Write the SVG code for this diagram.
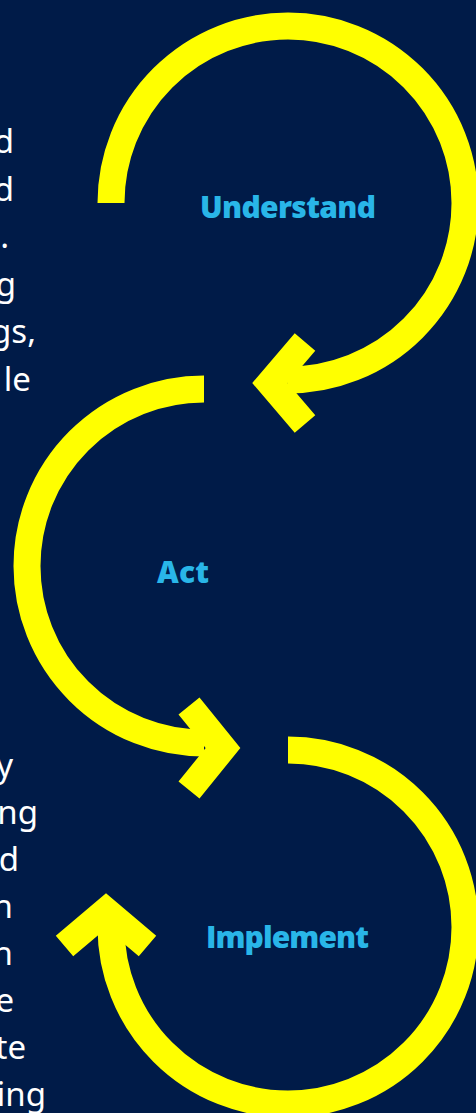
<svg xmlns="http://www.w3.org/2000/svg" width="476" height="1113" viewBox="0 0 476 1113">
  <style>
    .arc { fill: none; stroke: #FFFF00; stroke-width: 27; stroke-linecap: butt; }
    .head { fill: none; stroke: #FFFF00; stroke-width: 27; stroke-linejoin: miter; stroke-miterlimit: 10; stroke-linecap: butt; }
    .label { font-family: "Open Sans", Lato, sans-serif; font-weight: 800; font-size: 30px; fill: #29B6E8; }
    .side { font-family: "Noto Sans", "Liberation Sans", sans-serif; font-size: 33px; fill: #FFFFFF; text-anchor: end; }
  </style>
  <rect x="0" y="0" width="476" height="1113" fill="#001B48"/>

  <g id="side-text-top">
    <text class="side" x="14" y="153">d</text>
    <text class="side" x="14" y="200.5">d</text>
    <text class="side" x="9" y="248">e.</text>
    <text class="side" x="16" y="295.5">g</text>
    <text class="side" x="36" y="343">gs,</text>
    <text class="side" x="31" y="390.5">le</text>
  </g>
  <g id="side-text-bottom">
    <text class="side" x="13" y="777">y</text>
    <text class="side" x="38" y="824">ng</text>
    <text class="side" x="19" y="871">d</text>
    <text class="side" x="13" y="918">n</text>
    <text class="side" x="13" y="965">n</text>
    <text class="side" x="14" y="1012">e</text>
    <text class="side" x="26" y="1059">te</text>
    <text class="side" x="46" y="1106">ing</text>
  </g>

  <g id="connectors">
    <path class="arc" d="M111,203 A177,177 0 1 1 288,380"/>
    <polyline class="head" points="305,342 270,383 305,424"/>
    <path class="arc" d="M204,389 A177,177 0 0 0 204,743"/>
    <polyline class="head" points="189,706 223,748 189,790"/>
    <path class="arc" d="M288,750 A177,177 0 1 1 111,927"/>
    <polyline class="head" points="64.5,946 106,911 147.5,946"/>
  </g>

  <g id="node-understand">
    <text class="label" x="200" y="218" textLength="176" lengthAdjust="spacing">Understand</text>
  </g>
  <g id="node-act">
    <text class="label" x="157" y="583" textLength="52" lengthAdjust="spacing">Act</text>
  </g>
  <g id="node-implement">
    <text class="label" x="206" y="948" textLength="163" lengthAdjust="spacing">Implement</text>
  </g>
</svg>
